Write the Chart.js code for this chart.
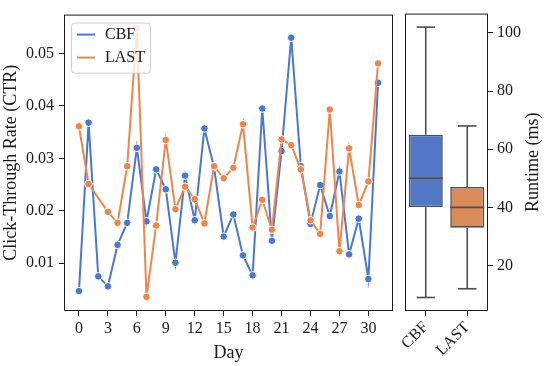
<!DOCTYPE html>
<html lang="en">
<head>
  <meta charset="UTF-8" />
  <title>CTR by day and runtime</title>
  <script src="https://cdn.jsdelivr.net/npm/chart.js"></script>
  <style>
    html, body { margin: 0; padding: 0; background: #fff; }
    #wrap { position: relative; width: 548px; height: 366px; overflow: hidden; }
    #ctrChart { position: absolute; left: 0; top: 0; }
    #runtimeChart { position: absolute; left: 398px; top: 0; }
  </style>
</head>
<body>
  <div id="wrap">
    <canvas id="ctrChart" width="398" height="366"></canvas>
    <canvas id="runtimeChart" width="150" height="366"></canvas>
  </div>

  <script>
    // --- data ---
    const days = [0,1,2,3,4,5,6,7,8,9,10,11,12,13,14,15,16,17,18,19,20,21,22,23,24,25,26,27,28,29,30,31];
    const cbfCtr = [0.0047,0.0368,0.0075,0.0056,0.0135,0.0177,0.0320,0.0180,0.0279,0.0241,0.0101,0.0267,
                    0.0182,0.0357,0.0283,0.0151,0.0193,0.0115,0.0077,0.0395,0.0143,0.0314,0.0530,0.0285,
                    0.0175,0.0249,0.0190,0.0275,0.0117,0.0185,0.0070,0.0444];
    const lastCtr = [0.0361,0.0251,null,0.0198,0.0177,0.0285,0.0548,0.0036,0.0172,0.0335,0.0203,0.0246,
                     0.0222,0.0176,0.0285,0.0262,0.0282,0.0365,0.0168,0.0221,0.0164,0.0336,0.0325,0.0279,
                     0.0182,0.0156,0.0393,0.0123,0.0319,0.0211,0.0256,0.0481];
    const dayTicks = [0,3,6,9,12,15,18,21,24,27,30];
    const ctrTicks = [0.01,0.02,0.03,0.04,0.05];

    const methods = ['CBF','LAST'];
    const runtimeLow = [9, 12];
    const runtimeQ1 = [40, 33];
    const runtimeMedian = [50, 40];
    const runtimeQ3 = [65, 47];
    const runtimeHigh = [102, 68];
    const runtimeTicks = [20,40,60,80,100];

    const BLUE = '#4878d0', ORANGE = '#ee854a';
    const BOX_FILL = ['#5177c5', '#d98b5b'];
    const BOX_EDGE = '#4f4f4f';
    const INK = '#1a1a1a';

    Chart.defaults.font.family = "'Liberation Serif', 'Times New Roman', serif";
    Chart.defaults.color = INK;
    Chart.defaults.animation = false;

    // box around the plotting area (matplotlib spines)
    const framePlugin = {
      id: 'frame',
      afterDraw(chart) {
        const {ctx, chartArea: a} = chart;
        ctx.save();
        ctx.strokeStyle = INK;
        ctx.lineWidth = 1;
        ctx.strokeRect(a.left + 0.5, a.top + 0.5, a.right - a.left - 1, a.bottom - a.top - 1);
        ctx.restore();
      }
    };

    // legend drawn inside the plot, top-left
    const innerLegend = {
      id: 'innerLegend',
      afterDraw(chart) {
        const {ctx, chartArea: a} = chart;
        const x = a.left + 7, y = a.top + 8, w = 79, h = 50;
        ctx.save();
        ctx.fillStyle = 'rgba(255,255,255,0.8)';
        ctx.strokeStyle = '#d0d0d0';
        ctx.lineWidth = 1;
        ctx.beginPath();
        ctx.roundRect(x + 0.5, y + 0.5, w, h, 3);
        ctx.fill();
        ctx.stroke();
        ctx.font = "16px 'Liberation Serif', serif";
        ctx.textBaseline = 'middle';
        chart.data.datasets.forEach((ds, i) => {
          const cy = y + 12 + i * 23;
          ctx.strokeStyle = ds.borderColor;
          ctx.lineWidth = 2;
          ctx.beginPath();
          ctx.moveTo(x + 6, cy);
          ctx.lineTo(x + 24, cy);
          ctx.stroke();
          ctx.fillStyle = INK;
          ctx.fillText(ds.label, x + 34, cy);
        });
        ctx.restore();
      }
    };

    new Chart(document.getElementById('ctrChart'), {
      type: 'line',
      data: {
        labels: days,
        datasets: [
          { label: 'CBF', data: days.map((d, i) => ({x: d, y: cbfCtr[i]})), borderColor: BLUE, backgroundColor: BLUE,
            borderWidth: 2, pointRadius: 3.8, pointBorderColor: '#fff', pointBorderWidth: 1, order: 1, tension: 0 },
          { label: 'LAST', data: days.map((d, i) => ({x: d, y: lastCtr[i]})), borderColor: ORANGE, backgroundColor: ORANGE,
            borderWidth: 2, pointRadius: 3.8, pointBorderColor: '#fff', pointBorderWidth: 1, order: 0, tension: 0, spanGaps: true }
        ]
      },
      options: {
        responsive: false,
        layout: { padding: { left: 0, top: 6, right: 4, bottom: 0 } },
        plugins: { legend: { display: false }, tooltip: { enabled: false } },
        scales: {
          x: {
            type: 'linear', min: -1.55, max: 32.55,
            afterFit(scale) { scale.height = 55; },
            afterBuildTicks(scale) { scale.ticks = dayTicks.map(v => ({value: v})); },
            ticks: { font: { size: 16 }, padding: 3, maxRotation: 0, color: INK },
            grid: { drawOnChartArea: false, drawTicks: true, tickLength: 5, color: INK },
            border: { display: false },
            title: { display: true, text: 'Day', font: { size: 18 }, padding: { top: 0, bottom: 2 }, color: INK }
          },
          y: {
            min: 0.0009, max: 0.0574,
            afterFit(scale) { scale.width = 64; },
            afterBuildTicks(scale) { scale.ticks = ctrTicks.map(v => ({value: v})); },
            ticks: { font: { size: 16 }, padding: 5, color: INK, callback: v => v.toFixed(2) },
            grid: { drawOnChartArea: false, drawTicks: true, tickLength: 5, color: INK },
            border: { display: false },
            title: { display: true, text: 'Click-Through Rate (CTR)', font: { size: 18 }, padding: { top: 0, bottom: 0 }, color: INK }
          }
        }
      },
      plugins: [framePlugin, innerLegend]
    });

    // whiskers, caps and medians on top of the floating bars
    const boxExtras = {
      id: 'boxExtras',
      afterDatasetsDraw(chart) {
        const {ctx} = chart;
        const yS = chart.scales.y;
        const bars = chart.getDatasetMeta(0).data;
        ctx.save();
        ctx.strokeStyle = BOX_EDGE;
        ctx.lineWidth = 1.6;
        bars.forEach((bar, i) => {
          const cx = bar.x, half = bar.width / 2, cap = bar.width * 0.27;
          const segs = [
            [cx, yS.getPixelForValue(runtimeQ3[i]), cx, yS.getPixelForValue(runtimeHigh[i])],
            [cx, yS.getPixelForValue(runtimeQ1[i]), cx, yS.getPixelForValue(runtimeLow[i])],
            [cx - cap, yS.getPixelForValue(runtimeHigh[i]), cx + cap, yS.getPixelForValue(runtimeHigh[i])],
            [cx - cap, yS.getPixelForValue(runtimeLow[i]), cx + cap, yS.getPixelForValue(runtimeLow[i])],
            [cx - half, yS.getPixelForValue(runtimeMedian[i]), cx + half, yS.getPixelForValue(runtimeMedian[i])]
          ];
          segs.forEach(s => { ctx.beginPath(); ctx.moveTo(s[0], s[1]); ctx.lineTo(s[2], s[3]); ctx.stroke(); });
        });
        ctx.restore();
      }
    };

    // right-hand axis title, read bottom to top like the reference
    const rightTitle = {
      id: 'rightTitle',
      afterDraw(chart) {
        const {ctx, chartArea: a} = chart;
        ctx.save();
        ctx.translate(135, (a.top + a.bottom) / 2);
        ctx.rotate(-Math.PI / 2);
        ctx.font = "18px 'Liberation Serif', serif";
        ctx.fillStyle = INK;
        ctx.textAlign = 'center';
        ctx.textBaseline = 'middle';
        ctx.fillText('Runtime (ms)', 0, 0);
        ctx.restore();
      }
    };

    new Chart(document.getElementById('runtimeChart'), {
      type: 'bar',
      data: {
        labels: methods,
        datasets: [{
          label: 'Runtime',
          data: methods.map((m, i) => [runtimeQ1[i], runtimeQ3[i]]),
          backgroundColor: BOX_FILL,
          borderColor: BOX_EDGE,
          borderWidth: 1.6,
          borderSkipped: false,
          barPercentage: 0.82,
          categoryPercentage: 1
        }]
      },
      options: {
        responsive: false,
        layout: { padding: { left: 7, top: 6, right: 0, bottom: 0 } },
        plugins: { legend: { display: false }, tooltip: { enabled: false } },
        scales: {
          x: {
            afterFit(scale) { scale.height = 55; },
            ticks: { font: { size: 16 }, minRotation: 45, maxRotation: 45, padding: 2, color: INK },
            grid: { offset: false, drawOnChartArea: false, drawTicks: true, tickLength: 5, color: INK },
            border: { display: false }
          },
          y: {
            position: 'right', min: 4.35, max: 106.65,
            afterFit(scale) { scale.width = 60; },
            afterBuildTicks(scale) { scale.ticks = runtimeTicks.map(v => ({value: v})); },
            ticks: { font: { size: 16 }, padding: 4, color: INK },
            grid: { drawOnChartArea: false, drawTicks: true, tickLength: 5, color: INK },
            border: { display: false }
          }
        }
      },
      plugins: [framePlugin, boxExtras, rightTitle]
    });
  </script>
</body>
</html>
